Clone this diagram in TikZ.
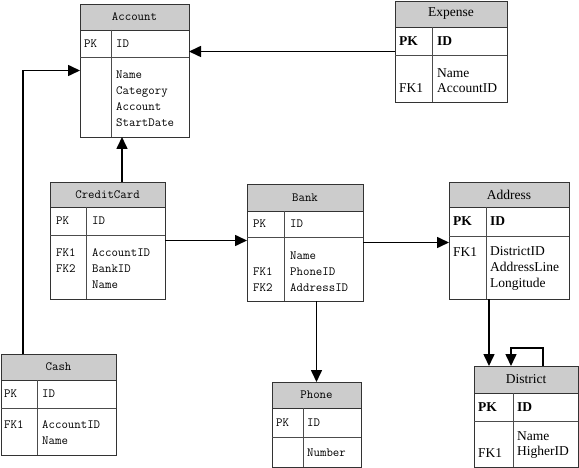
\documentclass[tikz,border=0pt]{standalone}
\usepackage{fontspec}
\newfontfamily\timesfont{Liberation Serif}
\usetikzlibrary{arrows.meta}
\definecolor{headgray}{RGB}{204,204,204}

\begin{document}
\begin{tikzpicture}[
        x=1pt, y=-1pt,
        % 通用樣式
        tablebox/.style={draw=black!80, line width=0.8pt, anchor=north west, outer sep=0pt, inner sep=0pt}, % 表格外框
        header/.style={draw=black!80, line width=0.8pt, fill=headgray}, % 表頭
        rule/.style={draw=black!70, line width=0.8pt}, % 分隔線
        mono text/.style={font=\fontsize{12.5}{16}\selectfont\ttfamily, inner sep=0pt, align=left}, % 等寬文字
        serif text/.style={font=\fontsize{13.5}{15}\selectfont\timesfont, inner sep=0pt, align=left}, % 襯線文字
        serif key/.style={font=\fontsize{13.5}{15}\selectfont\timesfont\bfseries, inner sep=0pt, anchor=west}, % 粗體主鍵
        link/.style={-{Triangle[length=12pt,width=11pt]}, line width=1.6pt} % 連線
    ]
        \useasboundingbox (0,0) rectangle (579,468);

        % --- Account ---
        \begin{scope}[shift={(80,4)}]
            \node[tablebox, minimum width=109pt, minimum height=133pt] (account) at (0,0) {};
            \draw[header] (0,0) rectangle (109,26);
            \draw[rule] (0,53) -- (109,53);
            \draw[rule] (31,26) -- (31,133);
            \node[mono text] (account-title) at (54.5,13) {Account};
            \node[mono text, anchor=west] (account-pk) at (4,39.5) {PK};
            \node[mono text, anchor=west] (account-id) at (36,39.5) {ID};
            \node[mono text, anchor=west] (account-fields) at (36,95) {Name\\Category\\Account\\StartDate};
        \end{scope}

        % --- Expense ---
        \begin{scope}[shift={(395,1)}]
            \node[tablebox, minimum width=112pt, minimum height=101pt] (expense) at (0,0) {};
            \draw[header] (0,0) rectangle (112,26);
            \draw[rule] (0,54) -- (112,54);
            \draw[rule] (37,26) -- (37,101);
            \node[serif text] (expense-title) at (56,13) {Expense};
            \node[serif key] (expense-pk) at (4,40) {PK};
            \node[serif key] (expense-id) at (42,40) {ID};
            \node[serif text, anchor=west] (expense-keys) at (4,87) {FK1};
            \node[serif text, anchor=west] (expense-fields) at (42,79.5) {Name\\AccountID};
        \end{scope}

        % --- CreditCard ---
        \begin{scope}[shift={(50,182)}]
            \node[tablebox, minimum width=115pt, minimum height=117pt] (creditcard) at (0,0) {};
            \draw[header] (0,0) rectangle (115,25);
            \draw[rule] (0,53) -- (115,53);
            \draw[rule] (36,25) -- (36,117);
            \node[mono text] (creditcard-title) at (57.5,12.5) {CreditCard};
            \node[mono text, anchor=west] (creditcard-pk) at (6,39) {PK};
            \node[mono text, anchor=west] (creditcard-id) at (42,39) {ID};
            \node[mono text, anchor=west] (creditcard-keys) at (6,79) {FK1\\FK2};
            \node[mono text, anchor=west] (creditcard-fields) at (42,87) {AccountID\\BankID\\Name};
        \end{scope}

        % --- Bank ---
        \begin{scope}[shift={(247,184)}]
            \node[tablebox, minimum width=116pt, minimum height=117pt] (bank) at (0,0) {};
            \draw[header] (0,0) rectangle (116,27);
            \draw[rule] (0,53) -- (116,53);
            \draw[rule] (37,27) -- (37,117);
            \node[mono text] (bank-title) at (58,13.5) {Bank};
            \node[mono text, anchor=west] (bank-pk) at (6,40) {PK};
            \node[mono text, anchor=west] (bank-id) at (43,40) {ID};
            \node[mono text, anchor=west] (bank-keys) at (6,95.5) {FK1\\FK2};
            \node[mono text, anchor=west] (bank-fields) at (43,88) {Name\\PhoneID\\AddressID};
        \end{scope}

        % --- Address ---
        \begin{scope}[shift={(449,182)}]
            \node[tablebox, minimum width=120pt, minimum height=117pt] (address) at (0,0) {};
            \draw[header] (0,0) rectangle (120,25);
            \draw[rule] (0,54) -- (120,54);
            \draw[rule] (37,25) -- (37,117);
            \node[serif text] (address-title) at (60,12.5) {Address};
            \node[serif key] (address-pk) at (4,39.5) {PK};
            \node[serif key] (address-id) at (41,39.5) {ID};
            \node[serif text, anchor=west] (address-keys) at (4,70) {FK1};
            \node[serif text, anchor=west, font=\fontsize{13.5}{16}\selectfont\timesfont] (address-fields) at (41,86) {DistrictID\\AddressLine\\Longitude};
        \end{scope}

        % --- Cash ---
        \begin{scope}[shift={(1,354)}]
            \node[tablebox, minimum width=115pt, minimum height=101pt] (cash) at (0,0) {};
            \draw[header] (0,0) rectangle (115,26);
            \draw[rule] (0,54) -- (115,54);
            \draw[rule] (36,26) -- (36,101);
            \node[mono text] (cash-title) at (57.5,13) {Cash};
            \node[mono text, anchor=west] (cash-pk) at (3,40) {PK};
            \node[mono text, anchor=west] (cash-id) at (41,40) {ID};
            \node[mono text, anchor=west] (cash-keys) at (3,71) {FK1};
            \node[mono text, anchor=west] (cash-fields) at (41,79) {AccountID\\Name};
        \end{scope}

        % --- Phone ---
        \begin{scope}[shift={(272,382)}]
            \node[tablebox, minimum width=89pt, minimum height=85pt] (phone) at (0,0) {};
            \draw[header] (0,0) rectangle (89,26);
            \draw[rule] (0,55) -- (89,55);
            \draw[rule] (31,26) -- (31,85);
            \node[mono text] (phone-title) at (44.5,13) {Phone};
            \node[mono text, anchor=west] (phone-pk) at (4,40.5) {PK};
            \node[mono text, anchor=west] (phone-id) at (35,40.5) {ID};
            \node[mono text, anchor=west] (phone-fields) at (35,71) {Number};
        \end{scope}

        % --- District ---
        \begin{scope}[shift={(474,366)}]
            \node[tablebox, minimum width=104pt, minimum height=101pt] (district) at (0,0) {};
            \draw[header] (0,0) rectangle (104,27);
            \draw[rule] (0,55) -- (104,55);
            \draw[rule] (39,27) -- (39,101);
            \node[serif text] (district-title) at (52,13.5) {District};
            \node[serif key] (district-pk) at (4,41) {PK};
            \node[serif key] (district-id) at (43,41) {ID};
            \node[serif text, anchor=west] (district-keys) at (4,87) {FK1};
            \node[serif text, anchor=west] (district-fields) at (43,79.5) {Name\\HigherID};
        \end{scope}

        % --- 連線 ---
        \coordinate (cash-up) at ([xshift=22pt]cash.north west);
        \coordinate (creditcard-up) at ([xshift=72pt]creditcard.north west);
        \coordinate (district-in) at ([xshift=15pt]district.north west);
        \coordinate (loop-out) at ([xshift=69pt]district.north west);
        \coordinate (loop-in) at ([xshift=37pt]district.north west);

        \draw[link] (expense.west) -- (account.east |- expense.west);
        \draw[link] (cash-up) |- (account.west);
        \draw[link] (creditcard-up) -- (creditcard-up |- account.south);
        \draw[link] (creditcard.east) -- (bank.west |- creditcard.east);
        \draw[link] (bank.east) -- (address.west |- bank.east);
        \draw[link] (phone.north |- bank.south) -- (phone.north);
        \draw[link] (district-in |- address.south) -- (district-in);
        \draw[link] (loop-out) -- ++(0,-18) -| (loop-in);

    \end{tikzpicture}
\end{document}
